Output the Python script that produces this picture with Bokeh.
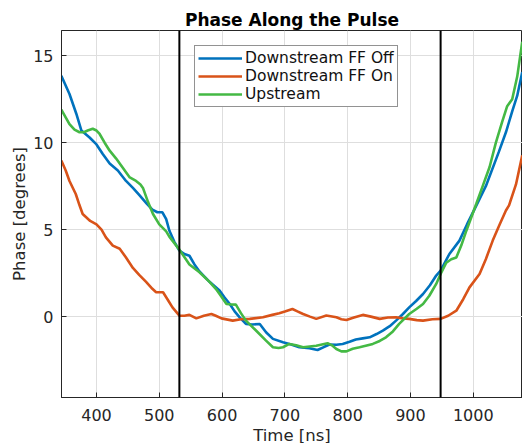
from bokeh.plotting import figure
from bokeh.models import Span, Legend, LegendItem, Range1d
from bokeh.embed import file_html
from bokeh.resources import INLINE

# ---- data ----
off_t = [344, 357, 368, 376, 389, 400, 410, 421, 434, 447, 458, 468, 480, 489, 497, 505, 511, 516,
         524, 532, 540, 548, 556, 564, 572, 580, 596, 604, 612, 620, 628, 638, 648, 660, 670, 681,
         697, 710, 723, 739, 752, 762, 771, 782, 792, 803, 813, 824, 835, 846, 856, 867, 877, 888,
         898, 909, 920, 931, 941, 948, 962, 978, 990, 1005, 1020, 1041, 1052, 1062, 1070, 1078]
off_v = [13.85, 12.8, 11.65, 10.7, 10.3, 9.9, 9.35, 8.8, 8.4, 7.8, 7.4, 7.0, 6.5, 6.15, 6.0, 6.0, 5.6, 4.95,
         4.3, 3.8, 3.6, 3.5, 3.0, 2.6, 2.3, 2.0, 1.5, 1.1, 0.74, 0.3, -0.04, -0.42, -0.45, -0.42, -0.9, -1.28,
         -1.47, -1.6, -1.76, -1.82, -1.92, -1.75, -1.61, -1.62, -1.57, -1.45, -1.32, -1.25, -1.19, -1.0, -0.8, -0.55, -0.23, 0.15,
         0.53, 0.9, 1.3, 1.8, 2.36, 2.64, 3.6, 4.37, 5.3, 6.4, 7.5, 9.5, 10.6, 11.8, 12.7, 14.06]

on_t = [344, 351, 357, 367, 373, 378, 390, 400, 408, 415, 426, 437, 447, 458, 468, 479, 489, 495, 506,
        513, 521, 532, 540, 548, 559, 571, 583, 590, 599, 617, 630, 644, 665, 680, 691, 700, 712, 720,
        729, 740, 750, 766, 782, 790, 798, 810, 824, 837, 851, 864, 877, 888, 898, 910, 920, 935, 948,
        960, 973, 984, 994, 1010, 1020, 1031, 1042, 1052, 1057, 1068, 1078]
on_v = [8.97, 8.4, 7.8, 7.05, 6.4, 5.9, 5.5, 5.3, 5.0, 4.56, 4.08, 3.9, 3.4, 2.8, 2.4, 2.0, 1.6, 1.4, 1.4,
        1.0, 0.53, 0.06, 0.05, 0.1, -0.1, 0.05, 0.15, 0.05, -0.1, -0.23, -0.15, -0.13, -0.04, 0.1, 0.2, 0.3, 0.44, 0.3,
        0.15, 0.0, -0.13, 0.06, -0.04, -0.15, -0.19, -0.05, 0.1, 0.0, -0.13, -0.05, -0.04, -0.1, -0.13, -0.2, -0.23, -0.15, -0.13,
        0.05, 0.34, 1.0, 1.68, 2.45, 3.3, 4.37, 5.3, 6.1, 6.4, 7.6, 9.27]

up_t = [344, 357, 365, 373, 380, 386, 394, 400, 405, 413, 421, 431, 437, 453, 463, 470, 474, 482, 490,
        500, 511, 516, 532, 548, 564, 580, 590, 596, 607, 615, 622, 630, 638, 654, 670, 681, 690, 697,
        707, 718, 729, 750, 768, 775, 782, 790, 798, 808, 819, 840, 851, 861, 872, 882, 898, 910, 920,
        930, 941, 948, 957, 965, 973, 981, 989, 1005, 1015, 1026, 1036, 1046, 1054, 1062, 1070, 1078]
up_v = [11.9, 11.07, 10.75, 10.6, 10.6, 10.7, 10.8, 10.7, 10.5, 10.0, 9.54, 9.1, 8.8, 8.0, 7.8, 7.6, 7.4, 6.6, 5.9,
        5.3, 4.9, 4.6, 3.85, 3.0, 2.55, 2.0, 1.6, 1.3, 0.73, 0.7, 0.69, 0.2, -0.23, -0.8, -1.38, -1.76, -1.8, -1.76,
        -1.57, -1.65, -1.76, -1.67, -1.53, -1.65, -1.86, -2.0, -2.0, -1.85, -1.76, -1.57, -1.4, -1.19, -0.85, -0.42, 0.15, 0.45, 0.73,
        1.2, 1.88, 2.45, 3.1, 3.3, 3.4, 4.1, 4.94, 6.5, 7.5, 8.6, 10.0, 11.2, 12.1, 12.5, 13.8, 15.8]

window_edges = [532, 948]
x_ticks = [400, 500, 600, 700, 800, 900, 1000]
y_ticks = [0, 5, 10, 15]

FONT = "DejaVu Sans"
DARK = "#262626"

p = figure(frame_width=461, frame_height=367,
           min_border_left=61, min_border_right=0, min_border_top=30, min_border_bottom=46,
           x_range=Range1d(344.3, 1078.4), y_range=Range1d(-4.65, 16.45),
           output_backend="svg", toolbar_location=None)

p.title.text = "Phase Along the Pulse"
p.title.text_font = FONT
p.title.text_font_size = "17px"
p.title.text_font_style = "bold"
p.title.text_color = "#000000"
p.title.align = "center"
p.title.standoff = 2
p.title.offset = 0

r_off = p.line(off_t, off_v, line_color="#0072BD", line_width=2.6)
r_on = p.line(on_t, on_v, line_color="#D95319", line_width=2.6)
r_up = p.line(up_t, up_v, line_color="#44B944", line_width=2.6)

for loc in window_edges:
    p.add_layout(Span(location=loc, dimension="height", line_color="#000000", line_width=2))

for ax in (p.xaxis[0], p.yaxis[0]):
    ax.axis_line_color = DARK
    ax.major_tick_line_color = DARK
    ax.major_tick_in = 5
    ax.major_tick_out = 0
    ax.minor_tick_line_color = None
    ax.major_label_text_font = FONT
    ax.major_label_text_font_size = "16px"
    ax.major_label_text_color = DARK
    ax.axis_label_text_font = FONT
    ax.axis_label_text_font_size = "16.5px"
    ax.axis_label_text_font_style = "normal"
    ax.axis_label_text_color = DARK

p.xaxis.ticker = x_ticks
p.yaxis.ticker = y_ticks
p.xaxis.axis_label = "Time [ns]"
p.yaxis.axis_label = "Phase [degrees]"
p.xaxis.major_label_standoff = 11
p.yaxis.major_label_standoff = 8
p.xaxis.axis_label_standoff = 2
p.yaxis.axis_label_standoff = 1

p.xgrid.ticker = x_ticks
p.ygrid.ticker = y_ticks
p.grid.grid_line_color = "#dedede"
p.grid.grid_line_width = 1

p.outline_line_color = DARK
p.outline_line_width = 1

legend = Legend(items=[LegendItem(label="Downstream FF Off", renderers=[r_off]),
                       LegendItem(label="Downstream FF On", renderers=[r_on]),
                       LegendItem(label="Upstream", renderers=[r_up])],
                location=(133, 290))
legend.label_text_font = FONT
legend.label_text_font_size = "15.5px"
legend.label_text_color = "#111111"
legend.glyph_width = 44
legend.glyph_height = 18
legend.label_height = 18
legend.label_standoff = 3
legend.spacing = 0
legend.padding = 3
legend.margin = 0
legend.border_line_color = DARK
legend.border_line_width = 1
legend.background_fill_color = "white"
legend.background_fill_alpha = 1
p.add_layout(legend)

open("out.html", "w").write(file_html(p, INLINE))
